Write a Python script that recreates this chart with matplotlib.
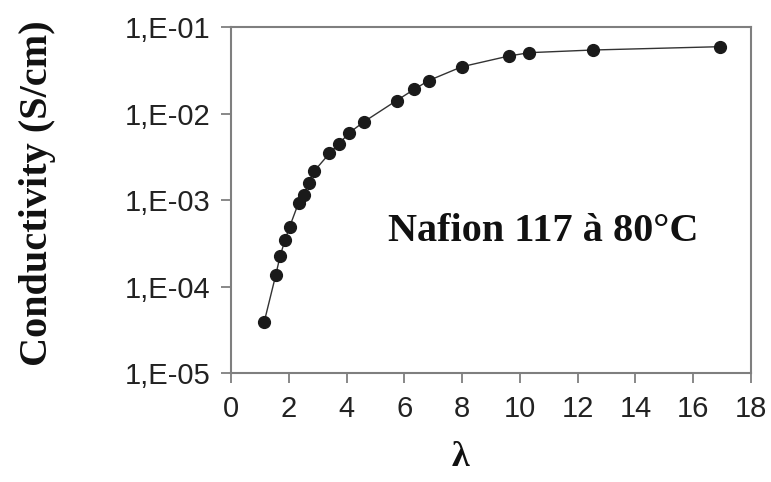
import matplotlib
matplotlib.use("Agg")
from matplotlib import pyplot as plt

# water content lambda vs conductivity (S/cm)
lam = [1.15, 1.55, 1.70, 1.87, 2.03, 2.34, 2.52, 2.70, 2.89, 3.41, 3.73,
       4.10, 4.59, 5.73, 6.34, 6.84, 7.99, 9.62, 10.33, 12.53, 16.92]
sigma = [3.9e-5, 1.36e-4, 2.25e-4, 3.45e-4, 4.9e-4, 9.3e-4, 1.14e-3, 1.56e-3,
         2.18e-3, 3.46e-3, 4.45e-3, 6.0e-3, 7.97e-3, 1.41e-2, 1.9e-2, 2.4e-2,
         3.47e-2, 4.62e-2, 5.05e-2, 5.42e-2, 5.92e-2]

xticks = [0, 2, 4, 6, 8, 10, 12, 14, 16, 18]
yticks = [1e-5, 1e-4, 1e-3, 1e-2, 1e-1]
ytick_labels = ["1,E-05", "1,E-04", "1,E-03", "1,E-02", "1,E-01"]

fig = plt.figure(figsize=(7.71, 4.82), dpi=100)
ax = fig.add_axes([0.2996, 0.226, 0.6744, 0.718])

ax.plot(lam, sigma, color="#333333", lw=1.0, marker="o", ms=8.5,
        mfc="#1a1a1a", mec="#1a1a1a")

ax.set_yscale("log")
ax.set_xlim(0, 18)
ax.set_ylim(1e-5, 1e-1)
ax.set_xticks(xticks)
ax.set_yticks(yticks)
ax.set_yticklabels(ytick_labels)
ax.minorticks_off()

for s in ax.spines.values():
    s.set_color("#7f7f7f")
    s.set_linewidth(1.5)
ax.tick_params(axis="both", direction="out", length=7, width=1.3,
               color="#7f7f7f", labelsize=21, labelcolor="#222222")
ax.tick_params(axis="x", pad=9)
ax.tick_params(axis="y", pad=8)
for t in ax.get_xticklabels() + ax.get_yticklabels():
    t.set_family("Liberation Sans")

ax.text(0.60, 0.41, "Nafion 117 à 80°C", transform=ax.transAxes,
        ha="center", va="center", fontsize=29, fontweight="bold",
        family="Liberation Serif", color="#111111")

fig.text(0.049, 0.60, "Conductivity (S/cm)", rotation=90, ha="center",
         va="center", fontsize=29, fontweight="bold",
         family="Liberation Serif", color="#111111")
fig.text(0.597, 0.05, "λ", ha="center", va="center", fontsize=26,
         fontweight="bold", family="Liberation Serif", color="#111111")

fig.savefig("out.png", dpi=100)
